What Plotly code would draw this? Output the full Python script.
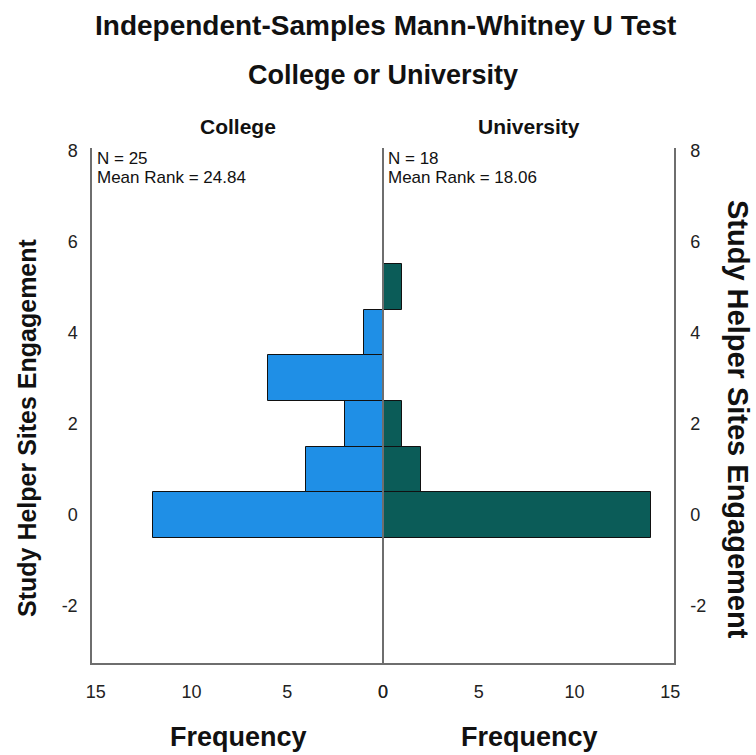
import plotly.graph_objects as go

# Data
bins = [0, 1, 2, 3, 4, 5]
college_freq = [12, 4, 2, 6, 1, 0]
university_freq = [14, 2, 1, 0, 0, 1]
y_ticks = [-2, 0, 2, 4, 6, 8]
x_ticks = [0, 5, 10, 15]
groups = ["College", "University"]
n_values = [25, 18]
mean_ranks = [24.84, 18.06]

BLUE = "#1F8FE6"
TEAL = "#0B5C58"
AXIS = "#6E6E6E"
FONT = "Liberation Sans, Arial, sans-serif"

W, H = 756, 755
L, R, T, B = 92, 82, 148, 92
PW, PH = W - L - R, H - T - B


def px(x):
    return (x - L) / PW


def py(y):
    return (H - B - y) / PH


fig = go.Figure()
fig.add_trace(go.Bar(x=college_freq, y=bins, orientation="h", width=1,
                     marker=dict(color=BLUE, line=dict(color="#111111", width=1)),
                     xaxis="x", yaxis="y", showlegend=False))
fig.add_trace(go.Bar(x=university_freq, y=bins, orientation="h", width=1,
                     marker=dict(color=TEAL, line=dict(color="#111111", width=1)),
                     xaxis="x2", yaxis="y2", showlegend=False))

yr = [-3.25, 8.05]
tickfont = dict(family=FONT, size=18, color="#222222")
common = dict(showgrid=False, zeroline=False, showline=True, linecolor=AXIS,
              linewidth=1.5, ticks="", tickfont=tickfont)
fig.update_layout(
    width=W, height=H,
    margin=dict(l=L, r=R, t=T, b=B),
    paper_bgcolor="white", plot_bgcolor="white",
    bargap=0,
    xaxis=dict(domain=[0, 0.5], range=[15.2, 0], tickvals=x_ticks,
               ticktext=[str(v) for v in x_ticks], anchor="y",
               ticklabelstandoff=12, **common),
    xaxis2=dict(domain=[0.5, 1], range=[0, 15.2], tickvals=x_ticks,
                ticktext=[str(v) for v in x_ticks], anchor="y2",
                ticklabelstandoff=12, **common),
    yaxis=dict(range=yr, tickvals=y_ticks, ticktext=[str(v) for v in y_ticks],
               anchor="x", side="left", ticklabelstandoff=9, **common),
    yaxis2=dict(range=yr, tickvals=y_ticks, ticktext=[str(v) for v in y_ticks],
                anchor="x2", side="right", ticklabelstandoff=11, **common),
)

# center line
fig.add_shape(type="line", xref="paper", yref="paper", x0=0.5, x1=0.5, y0=0, y1=1,
              line=dict(color=AXIS, width=2))


def add_text(text, x, y, size, xanchor="center", angle=0):
    fig.add_annotation(text=text, xref="paper", yref="paper", x=px(x), y=py(y),
                       xanchor=xanchor, yanchor="middle", showarrow=False,
                       textangle=angle,
                       font=dict(family=FONT, size=size, color="#111111"))


add_text("<b>Independent-Samples Mann-Whitney U Test</b>", 385, 25, 28)
add_text("<b>College or University</b>", 383, 75, 27)
add_text(f"<b>{groups[0]}</b>", 238, 127, 21)
add_text(f"<b>{groups[1]}</b>", 529, 127, 21)
add_text("<b>Frequency</b>", 238, 737, 27)
add_text("<b>Frequency</b>", 529, 737, 27)

for i in range(2):
    x0 = 95 if i == 0 else 386
    add_text(f"N = {n_values[i]}", x0, 159, 17, xanchor="left")
    add_text(f"Mean Rank = {mean_ranks[i]:.2f}", x0, 177, 17, xanchor="left")

add_text("<b>Study Helper Sites Engagement</b>", 27, 428, 25, angle=-90)
add_text("<b>Study Helper Sites Engagement</b>", 738, 419, 29, angle=90)

fig.write_html("out.html", config={"displayModeBar": False},
               post_script="document.body.style.margin='0';")
